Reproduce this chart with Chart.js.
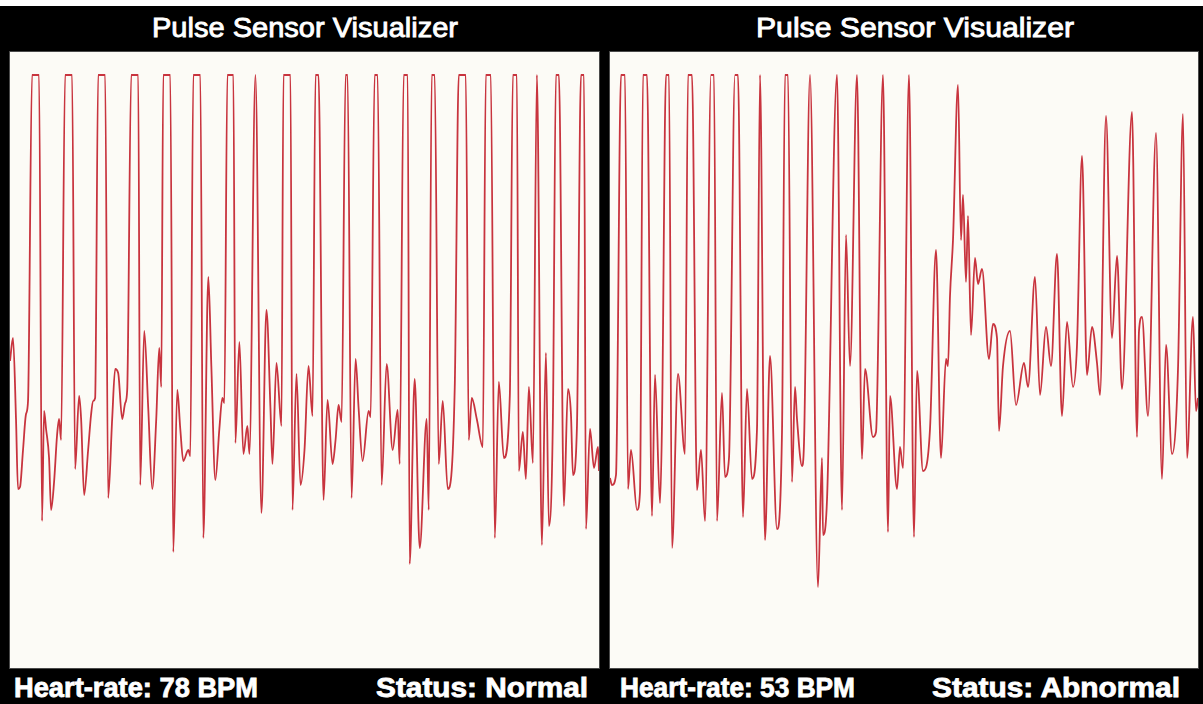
<!DOCTYPE html>
<html>
<head>
<meta charset="utf-8">
<script src="https://cdn.jsdelivr.net/npm/chart.js@4.4.1/dist/chart.umd.min.js"></script>
<style>
  html, body { margin: 0; padding: 0; background: #fff; }
  body { width: 1203px; height: 704px; position: relative; overflow: hidden; }
  .panel { position: absolute; top: 6px; height: 698px; background: #000; }
  .plot { position: absolute; top: 52px; height: 616px; background: #fcfbf6; box-shadow: 0 0 0 1px #4a4a4a; }
  .txt { position: absolute; color: #fff; white-space: nowrap; font-family: "Liberation Sans", Arial, sans-serif; transform-origin: 0 50%; }
  .title { font-size: 28px; top: 12px; -webkit-text-stroke: 0.9px #fff; }
  .foot { font-size: 27px; font-weight: bold; top: 673px; -webkit-text-stroke: 0.8px #fff; }
</style>
</head>
<body>
<div class="panel" style="left:0;width:604px"></div>
<div class="panel" style="left:604px;width:599px"></div>

<div class="plot" style="left:10px;width:589px"><canvas id="leftChart"></canvas></div>
<div class="plot" style="left:610px;width:588px"><canvas id="rightChart"></canvas></div>

<div class="txt title" id="leftTitle" data-x="152" data-w="306"></div>
<div class="txt title" id="rightTitle" data-x="756" data-w="318"></div>
<div class="txt foot" id="leftRate" data-x="14" data-w="244"></div>
<div class="txt foot" id="leftStatus" data-x="376" data-w="212"></div>
<div class="txt foot" id="rightRate" data-x="620" data-w="235"></div>
<div class="txt foot" id="rightStatus" data-x="932" data-w="248"></div>

<script>
// text
const chartTitle = 'Pulse Sensor Visualizer'
const heartRates = [78, 53]
const statuses = ['Normal', 'Abnormal']

// left sensor: sample time and raw signal
const leftTime = [0,3,6,8,10,13,16,18,22,29,32,34,36,39,41,44,47,49,51,55,62,65,69,71,74,78,81,83,85,88,95,98,102,105,108,112,115,117,121,128,
  130,134,138,142,146,149,151,153,160,163,167,170,173,178,180,183,190,193,198,201,205,209,212,214,217,223,225,229,233,237,239,245,251,256,260,262,266,271,273,280,
  282,286,290,294,298,302,305,308,313,317,322,325,328,331,335,337,341,345,348,352,358,360,364,367,371,376,382,387,389,393,397,399,404,409,416,418,421,424,428,432,
  437,444,448,455,458,461,466,472,475,480,484,488,493,499,502,506,508,512,515,518,522,526,531,535,538,542,545,548,553,557,560,562,566,570,573,575,579,583,587,588]
const leftSignal = [307,330,249,179,181,218,254,267,593,593,147,257,239,210,158,186,233,249,228,593,593,199,272,249,173,218,254,267,270,593,593,170,249,299,295,249,265,278,593,593,
  183,337,260,179,249,320,281,593,593,116,278,239,207,218,212,593,593,130,391,302,188,239,270,265,593,593,225,326,214,242,214,593,155,358,260,204,305,242,593,593,
  158,294,183,218,302,252,593,593,168,268,204,228,263,246,593,593,170,309,260,207,257,251,593,593,183,304,218,258,204,593,593,104,289,120,249,158,593,593,204,267,
  179,281,593,593,228,270,249,221,593,593,130,286,210,273,593,593,197,236,189,281,205,593,123,315,142,252,593,593,162,279,254,193,242,593,593,139,239,200,221,197]

// right sensor
const rightTime = [0,2,6,11,15,18,21,27,30,33,37,42,45,50,52,56,59,62,68,75,78,82,87,91,95,101,104,107,112,115,119,125,128,133,137,142,147,150,155,160,
  167,172,175,178,182,185,187,192,194,200,208,212,213,217,227,232,236,240,247,252,255,263,266,273,278,280,287,290,293,299,304,307,313,320,326,331,336,338,340,343,
  348,351,353,356,358,361,365,368,372,379,383,387,389,393,400,406,414,418,425,430,436,441,447,452,457,463,467,472,477,482,487,490,496,502,507,512,522,527,529,532,
  538,546,552,556,562,568,573,577,583,586,588]
const rightSignal = [190,183,193,593,593,179,218,158,176,593,593,152,293,165,244,593,593,120,294,214,593,593,178,218,147,593,593,147,275,191,210,593,593,151,279,189,239,593,128,312,
  139,236,593,593,186,281,249,202,225,593,81,210,133,168,593,158,433,302,593,209,299,231,236,593,136,272,179,221,200,593,131,297,197,239,418,210,309,302,372,428,
  583,428,473,386,452,333,410,384,399,309,344,330,237,302,337,263,305,281,391,273,341,302,414,252,346,281,323,512,293,341,305,273,552,330,412,279,556,231,337,351,
  252,535,189,323,214,299,554,210,351,257,270]

const lineColor = '#c8343e'

function makeChart(id, time, signal) {
    const points = time.map((t, i) => ({ x: t, y: signal[i] }))
    return new Chart(document.getElementById(id), {
        type: 'line',
        data: {
            datasets: [{
                data: points,
                borderColor: lineColor,
                borderWidth: 1.8,
                pointRadius: 0,
                cubicInterpolationMode: 'monotone',
                fill: false
            }]
        },
        options: {
            responsive: true,
            maintainAspectRatio: false,
            animation: false,
            layout: { padding: 0 },
            scales: {
                x: { type: 'linear', min: 0, max: 588, display: false },
                y: { min: 0, max: 616, display: false }
            },
            plugins: {
                legend: { display: false },
                tooltip: { enabled: false }
            }
        }
    })
}

makeChart('leftChart', leftTime, leftSignal)
makeChart('rightChart', rightTime, rightSignal)

document.getElementById('leftTitle').textContent = chartTitle
document.getElementById('rightTitle').textContent = chartTitle
document.getElementById('leftRate').textContent = 'Heart-rate: ' + heartRates[0] + ' BPM'
document.getElementById('rightRate').textContent = 'Heart-rate: ' + heartRates[1] + ' BPM'
document.getElementById('leftStatus').textContent = 'Status: ' + statuses[0]
document.getElementById('rightStatus').textContent = 'Status: ' + statuses[1]

// stretch each label to the width it takes in the original
document.querySelectorAll('.txt').forEach(el => {
    el.style.left = el.dataset.x + 'px'
    const w = el.getBoundingClientRect().width
    el.style.transform = 'scaleX(' + (Number(el.dataset.w) / w) + ')'
})
</script>
</body>
</html>
